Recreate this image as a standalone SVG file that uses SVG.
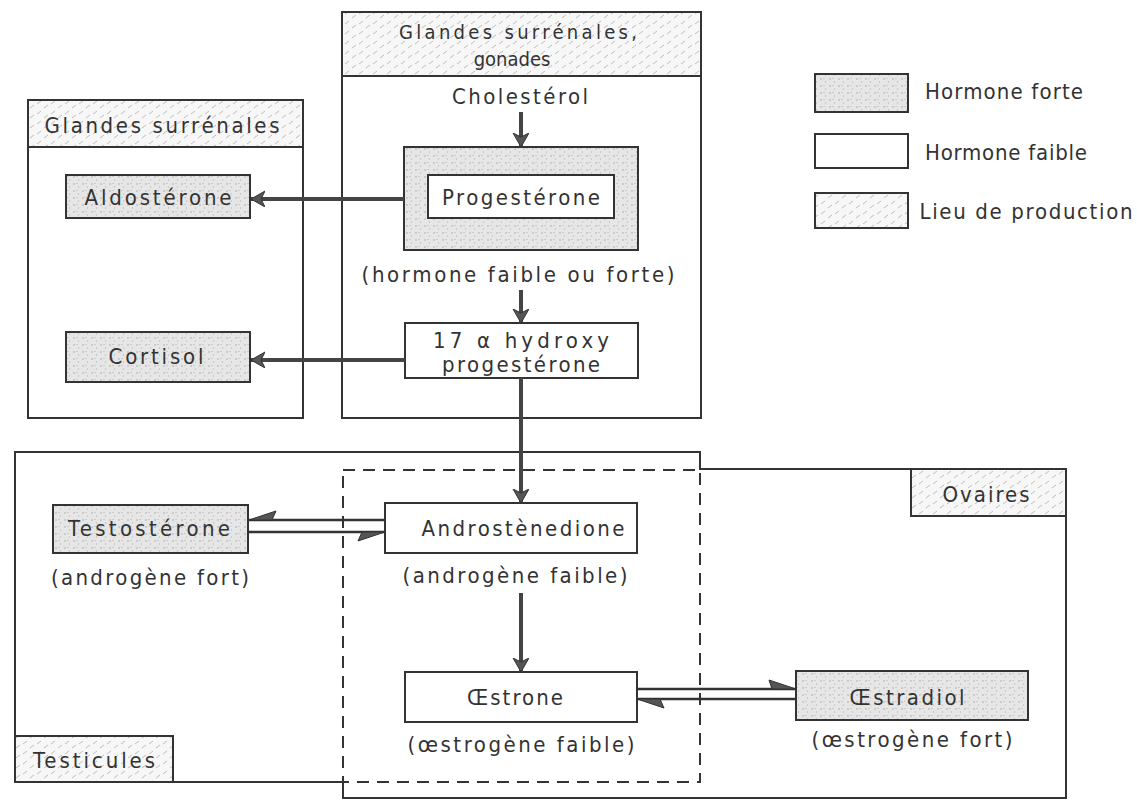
<svg xmlns="http://www.w3.org/2000/svg" width="1137" height="801" viewBox="0 0 1137 801">
<style>
text{font-family:"DejaVu Sans Condensed","Liberation Sans",sans-serif;font-size:22px;fill:#333;text-anchor:middle}
.hd{font-size:20px}
.box{stroke:#333;stroke-width:2;fill:#fff}
.forte{fill:url(#stip)}
.lieu{fill:url(#hatch)}
.region{fill:none;stroke:#333;stroke-width:2}
.dash{fill:none;stroke:#333;stroke-width:2;stroke-dasharray:12 8}
.con{stroke:#444;stroke-width:4;fill:none}
.thin{stroke:#333;stroke-width:2.5;fill:none}
.head{fill:#555;stroke:#333;stroke-width:1}
</style>
<defs>
<pattern id="stip" width="9" height="7" patternUnits="userSpaceOnUse">
<rect width="9" height="7" fill="#e6e6e6"/>
<circle cx="2" cy="2" r="0.8" fill="#aaa"/>
<circle cx="6.5" cy="5" r="0.7" fill="#bbb"/>
<rect x="4" y="1" width="2" height="0.8" fill="#c4c4c4"/>
</pattern>
<pattern id="hatch" width="14" height="10" patternUnits="userSpaceOnUse">
<rect width="14" height="10" fill="#f7f7f7"/>
<path d="M2 8 L6 5 M9 4 L13 1" stroke="#bdbdbd" stroke-width="1"/>
</pattern>
<marker id="ah" markerUnits="userSpaceOnUse" markerWidth="20" markerHeight="20" refX="14" refY="8" orient="auto">
<path d="M0 0 L14 8 L0 16 L4 8 Z" fill="#555" stroke="#333" stroke-width="1"/>
</marker>
</defs>

<g id="legend">
<rect class="box forte" x="815" y="74" width="93" height="38"/>
<text x="1004" y="99" textLength="158">Hormone forte</text>
<rect class="box" x="815" y="134" width="93" height="34"/>
<text x="1006" y="160" textLength="162">Hormone faible</text>
<rect class="box lieu" x="815" y="193" width="93" height="35"/>
<text x="1026" y="219" textLength="213">Lieu de production</text>
</g>

<g id="region-surrenales-gonades">
<rect class="box lieu" x="342" y="12" width="359" height="64"/>
<rect class="region" x="342" y="12" width="359" height="406"/>
<text class="hd" x="518" y="39" textLength="238">Glandes surrénales,</text>
<text class="hd" x="512" y="66">gonades</text>
</g>

<g id="region-surrenales">
<rect class="box lieu" x="28" y="100" width="275" height="47"/>
<rect class="region" x="28" y="100" width="275" height="318"/>
<text x="162" y="133" textLength="235">Glandes surrénales</text>
</g>

<g id="region-testicules">
<path class="region" d="M700 470 L700 452 L15 452 L15 782 L343 782"/>
<rect class="box lieu" x="15" y="736" width="158" height="46"/>
<text x="94" y="768" textLength="122">Testicules</text>
</g>

<g id="region-ovaires">
<path class="region" d="M700 469 L1066 469 L1066 798 L343 798 L343 782"/>
<rect class="box lieu" x="911" y="469" width="155" height="47"/>
<text x="986" y="502" textLength="87">Ovaires</text>
</g>

<g id="region-overlap">
<rect class="dash" x="343" y="470" width="357" height="312"/>
</g>

<g id="cholesterol">
<text x="520" y="104" textLength="136">Cholestérol</text>
</g>

<g id="progesterone">
<rect class="box forte" x="404" y="147" width="234" height="103"/>
<rect class="box" x="428" y="175" width="186" height="43"/>
<text x="521" y="205" textLength="158">Progestérone</text>
<text x="518" y="282" textLength="313">(hormone faible ou forte)</text>
</g>

<g id="aldosterone">
<rect class="box forte" x="66" y="175" width="184" height="43"/>
<text x="158" y="205" textLength="147">Aldostérone</text>
</g>

<g id="hydroxyprogesterone">
<rect class="box" x="405" y="323" width="233" height="55"/>
<text x="521" y="348" textLength="176">17 α hydroxy</text>
<text x="521" y="372" textLength="158">progestérone</text>
</g>

<g id="cortisol">
<rect class="box forte" x="66" y="332" width="184" height="50"/>
<text x="156" y="364" textLength="95">Cortisol</text>
</g>

<g id="testosterone">
<rect class="box forte" x="53" y="505" width="195" height="48"/>
<text x="149" y="536" textLength="162">Testostérone</text>
<text x="150" y="585" textLength="198">(androgène fort)</text>
</g>

<g id="androstenedione">
<rect class="box" x="385" y="503" width="252" height="50"/>
<text x="523" y="536" textLength="203">Androstènedione</text>
<text x="515" y="583" textLength="225">(androgène faible)</text>
</g>

<g id="oestrone">
<rect class="box" x="405" y="672" width="232" height="50"/>
<text x="515" y="705" textLength="96">Œstrone</text>
<text x="521" y="752" textLength="227">(œstrogène faible)</text>
</g>

<g id="oestradiol">
<rect class="box forte" x="796" y="671" width="232" height="49"/>
<text x="907" y="705" textLength="115">Œstradiol</text>
<text x="912" y="747" textLength="201">(œstrogène fort)</text>
</g>

<g id="connectors">
<line class="con" x1="521" y1="112" x2="521" y2="147" marker-end="url(#ah)"/>
<line class="con" x1="404" y1="199" x2="251" y2="199" marker-end="url(#ah)"/>
<line class="con" x1="521" y1="290" x2="521" y2="323" marker-end="url(#ah)"/>
<line class="con" x1="405" y1="360" x2="251" y2="360" marker-end="url(#ah)"/>
<line class="con" x1="521" y1="378" x2="521" y2="503" marker-end="url(#ah)"/>
<line class="con" x1="521" y1="593" x2="521" y2="672" marker-end="url(#ah)"/>
<line class="thin" x1="249" y1="520" x2="385" y2="520"/>
<path class="head" d="M249 520 L276 511 L272 520 Z"/>
<line class="thin" x1="249" y1="532" x2="385" y2="532"/>
<path class="head" d="M385 532 L358 541 L362 532 Z"/>
<line class="thin" x1="637" y1="689" x2="796" y2="689"/>
<path class="head" d="M796 689 L769 680 L772 689 Z"/>
<line class="thin" x1="637" y1="699" x2="796" y2="699"/>
<path class="head" d="M637 699 L664 708 L660 699 Z"/>
</g>
</svg>
